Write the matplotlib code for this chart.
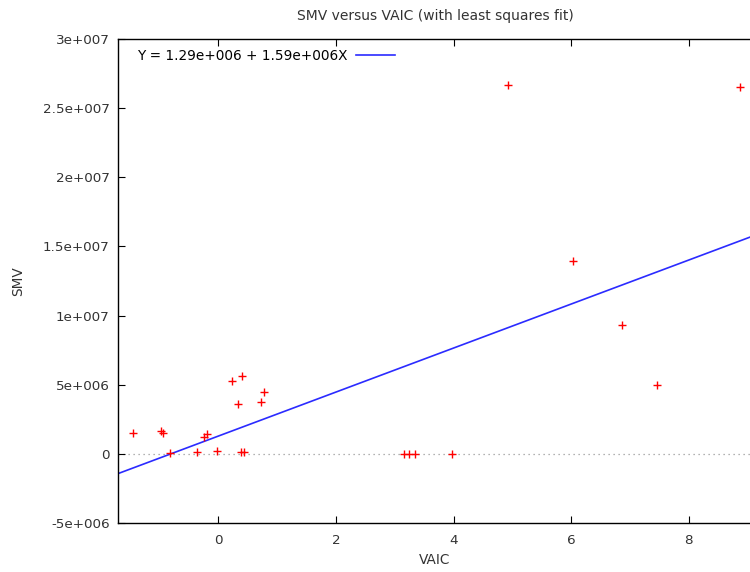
import numpy as np
import matplotlib
matplotlib.use("Agg")
import matplotlib.pyplot as plt
from matplotlib.lines import Line2D

VAIC = [-1.45, -0.97, -0.95, -0.82, -0.36, -0.24, -0.20, -0.03, 0.23, 0.40,
        0.33, 0.39, 0.44, 0.73, 0.77, 3.15, 3.25, 3.34, 3.98, 4.92,
        6.04, 6.86, 7.46, 8.88]
SMV = [1.52e6, 1.62e6, 1.48e6, 0.05e6, 0.1e6, 1.22e6, 1.42e6, 0.18e6, 5.27e6, 5.65e6,
       3.61e6, 0.12e6, 0.12e6, 3.76e6, 4.48e6, 0.0e6, 0.0e6, 0.0e6, 0.0e6, 2.667e7,
       1.395e7, 9.3e6, 4.95e6, 2.65e7]

# Least squares fit shown in the legend
INTERCEPT = 1.29e6
SLOPE = 1.59e6

XLIM = (-1.71, 9.08)
YLIM = (-5e6, 3e7)
X_TICKS = [0, 2, 4, 6, 8]
Y_TICKS = [-5e6, 0, 5e6, 1e7, 1.5e7, 2e7, 2.5e7, 3e7]
Y_TICKLABELS = ["-5e+006", "0", "5e+006", "1e+007", "1.5e+007",
                "2e+007", "2.5e+007", "3e+007"]

TEXT = "#333333"
plt.rcParams.update({
    "font.family": "DejaVu Sans",
    "font.size": 9.7,
})

fig = plt.figure(figsize=(7.5, 5.72), dpi=100)
ax = fig.add_axes([118 / 750, 1 - 523 / 572, (752 - 118) / 750, (523 - 39) / 572])

# zero line
ax.axhline(0, color="#999999", linestyle=(0, (1, 3)), linewidth=0.9, zorder=1)

ax.plot(VAIC, SMV, linestyle="none", marker="+", color="#ff0000",
        markersize=6, markeredgewidth=1.0, zorder=3)

xfit = np.array(XLIM)
ax.plot(xfit, INTERCEPT + SLOPE * xfit, color="#2b2bff", linewidth=1.2, zorder=2)

ax.set_xlim(*XLIM)
ax.set_ylim(*YLIM)
ax.set_xticks(X_TICKS)
ax.set_xticklabels([str(t) for t in X_TICKS])
ax.set_yticks(Y_TICKS)
ax.set_yticklabels(Y_TICKLABELS)

ax.tick_params(axis="x", direction="in", length=5, top=True, bottom=True,
               pad=8, colors="black", labelcolor=TEXT, labelsize=9.7)
ax.tick_params(axis="y", direction="in", length=5, left=True, right=False,
               pad=6, labelcolor=TEXT, labelsize=9.7)
for s in ax.spines.values():
    s.set_linewidth(1.0)
    s.set_color("black")

ax.set_xlabel("VAIC", fontsize=9.8, color=TEXT, labelpad=4)
ax.set_ylabel("SMV", fontsize=9.8, color=TEXT, labelpad=13)
ax.set_title("SMV versus VAIC (with least squares fit)", fontsize=10,
             color=TEXT, pad=14)

handle = Line2D([], [], color="#2b2bff", linewidth=1.2)
ax.legend([handle], ["Y = 1.29e+006 + 1.59e+006X"], loc="upper left",
          frameon=False, markerfirst=False, handlelength=2.9,
          handletextpad=0.6, fontsize=9.8, borderaxespad=0.3,
          bbox_to_anchor=(0.015, 1.0))

fig.savefig("out.png", dpi=100)
